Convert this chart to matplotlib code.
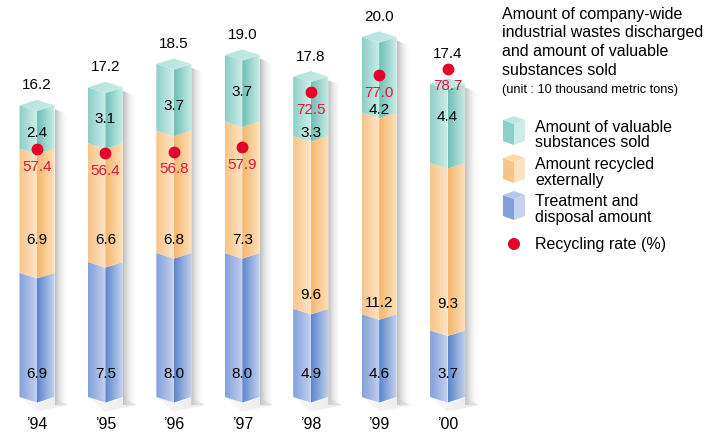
import numpy as np
import matplotlib
matplotlib.use('Agg')
import matplotlib.pyplot as plt
from matplotlib.patches import Polygon, Circle
from matplotlib.colors import to_rgb

plt.rcParams['font.family'] = ['Liberation Sans', 'DejaVu Sans']

years = ['\u201994', '\u201995', '\u201996', '\u201997', '\u201998', '\u201999', '\u201900']
disposal = [6.9, 7.5, 8.0, 8.0, 4.9, 4.6, 3.7]
recycled = [6.9, 6.6, 6.8, 7.3, 9.6, 11.2, 9.3]
valuable = [2.4, 3.1, 3.7, 3.7, 3.3, 4.2, 4.4]
totals = [16.2, 17.2, 18.5, 19.0, 17.8, 20.0, 17.4]
rate = [57.4, 56.4, 56.8, 57.9, 72.5, 77.0, 78.7]

# label heights (layout only), in amount units
lab_recycled = [8.8, 8.8, 8.8, 8.8, 5.7, 5.3, 5.2]
lab_valuable = [14.7, 15.5, 16.2, 17.0, 14.7, 16.0, 15.6]

blue = [('#82a0db', '#c4d0ef'), ('#5a85ca', '#c6d2ee')]
orange = [('#f8c487', '#fee5c7'), ('#f4b66d', '#fde2bd')]
teal = [('#8ccfc7', '#cdede8'), ('#6ebfb5', '#cbede7')]
red = '#e4002b'

fig = plt.figure(figsize=(7.19, 4.35), dpi=100)
ax = fig.add_axes([2.8 / 719, 0, 479 / 719, 1])
ax.axis('off')

w = 0.256   # half width of prism
d = 0.31    # depth offset of front edge
sw = 0.2    # shadow width

# rate scale (second axis) lined up with amount scale
r_lo, r_hi = -17.83, 97.09
a_lo, a_hi = -37 / 18, 398 / 18


def rate_to_amount(r):
    return a_lo + (r - r_lo) / (r_hi - r_lo) * (a_hi - a_lo)


def grad_poly(verts, c0, c1, z, alpha=None):
    poly = Polygon(verts, closed=True, facecolor='none', edgecolor='none')
    ax.add_patch(poly)
    xs = [v[0] for v in verts]
    ys = [v[1] for v in verts]
    g = np.linspace(0, 1, 64)
    cols = (1 - g)[:, None] * np.array(to_rgb(c0)) + g[:, None] * np.array(to_rgb(c1))
    if alpha is not None:
        a = (1 - g) * alpha[0] + g * alpha[1]
        cols = np.concatenate([cols, a[:, None]], axis=1)
    im = ax.imshow(cols[None, :, :], extent=(min(xs), max(xs), min(ys), max(ys)),
                   aspect='auto', origin='lower', interpolation='bilinear', zorder=z)
    im.set_clip_path(poly)


for i in range(len(years)):
    c = i
    segs = [(0, disposal[i], blue),
            (disposal[i], disposal[i] + recycled[i], orange),
            (disposal[i] + recycled[i], totals[i], teal)]
    # soft shadow on the right and below
    grad_poly([(c + w, -0.45), (c + w + sw, -0.45), (c + w + sw, totals[i] - 0.5), (c + w, totals[i] - 0.2)],
              '#7a7a7a', '#ffffff', 1, alpha=(0.5, 0.0))
    grad_poly([(c - w + 0.05, -0.05), (c, -d - 0.05), (c + w, -0.05), (c + w + sw, -0.45), (c, -d - 0.5), (c - w + 0.12, -0.4)],
              '#e2e2e2', '#c4c4c4', 1, alpha=(0.25, 0.4))
    for y0, y1, col in segs:
        grad_poly([(c - w, y0), (c, y0 - d), (c, y1 - d), (c - w, y1)], col[0][0], col[0][1], 2)
        grad_poly([(c, y0 - d), (c + w, y0), (c + w, y1), (c, y1 - d)], col[1][0], col[1][1], 2)
    t = totals[i]
    grad_poly([(c - w, t), (c, t + d), (c + w, t), (c, t - d)], '#b3e2dc', '#c9ece7', 3)

    ax.text(c, 1.35, f'{disposal[i]:.1f}', ha='center', va='center', fontsize=11, zorder=5)
    ax.text(c, lab_recycled[i], f'{recycled[i]:.1f}', ha='center', va='center', fontsize=11, zorder=5)
    ax.text(c, lab_valuable[i], f'{valuable[i]:.1f}', ha='center', va='center', fontsize=11, zorder=5)
    ty = max(t + 1.17, rate_to_amount(rate[i]) + 0.85)
    ax.text(c, ty, f'{t:.1f}', ha='center', va='center', fontsize=11, zorder=5)
    ax.text(c, -1.5, years[i], ha='center', va='center', fontsize=11.5, zorder=5)

ax.set_xlim(-0.5, 6.5)
ax.set_ylim(a_lo, a_hi)

# recycling rate on its own scale
ax2 = ax.twinx()
ax2.axis('off')
ax2.set_ylim(r_lo, r_hi)
xs = np.arange(len(years))
ax2.plot(xs, rate, 'o', color=red, markersize=8.5, markeredgewidth=0, zorder=6)
for i in range(len(years)):
    ax2.annotate(f'{rate[i]:.1f}', (i, rate[i]), xytext=(0, -12), textcoords='offset points',
                 ha='center', va='center', fontsize=11, color='#e3173e')
ax2.set_xlim(-0.5, 6.5)

# legend area in pixel coordinates
lg = fig.add_axes([0, 0, 1, 1])
lg.set_xlim(0, 719)
lg.set_ylim(435, 0)
lg.axis('off')
lg.patch.set_alpha(0)

title = ['Amount of company-wide', 'industrial wastes discharged',
         'and amount of valuable', 'substances sold']
for k, s in enumerate(title):
    lg.text(502, 14 + 18.7 * k, s, fontsize=11.5, va='center', ha='left')
lg.text(502, 90, '(unit : 10 thousand metric tons)', fontsize=9.2, va='center', ha='left')

entries = [(teal, '#bfe6e0', 117, ['Amount of valuable', 'substances sold']),
           (orange, '#fbd9ab', 155, ['Amount recycled', 'externally']),
           (blue, '#b6c6ec', 192, ['Treatment and', 'disposal amount'])]
for col, topc, y, lines in entries:
    lg.add_patch(Polygon([(503, y + 4), (514, y + 8), (514, y + 29), (503, y + 25)], closed=True,
                         facecolor=col[0][0], edgecolor='none'))
    lg.add_patch(Polygon([(514, y + 8), (525, y + 4), (525, y + 25), (514, y + 29)], closed=True,
                         facecolor=col[1][1], edgecolor='none'))
    lg.add_patch(Polygon([(503, y + 4), (514, y), (525, y + 4), (514, y + 8)], closed=True,
                         facecolor=topc, edgecolor='none'))
    lg.text(535, y + 10, lines[0], fontsize=11.5, va='center', ha='left')
    lg.text(535, y + 26, lines[1], fontsize=11.5, va='center', ha='left')

lg.add_patch(Circle((514, 245), 6, facecolor=red, edgecolor='none'))
lg.text(535, 245, 'Recycling rate (%)', fontsize=11.5, va='center', ha='left')

fig.savefig('out.png', dpi=100)
